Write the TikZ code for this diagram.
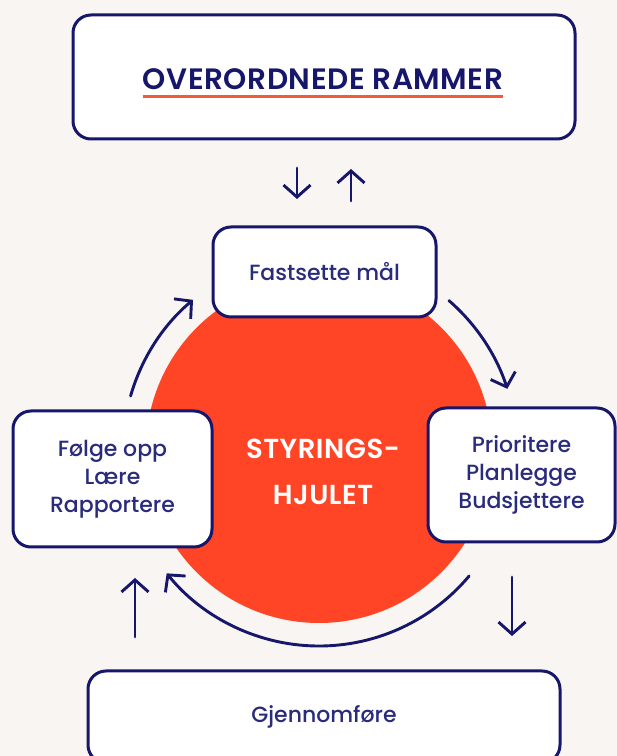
\documentclass[tikz,border=0pt]{standalone}
\usepackage{fontspec}
\setmainfont{Poppins}
\newfontfamily\bodyfont{Poppins Medium}
\newfontfamily\headfont{Poppins SemiBold}[LetterSpace=2]
\usetikzlibrary{arrows.meta}
\definecolor{bg}{HTML}{F8F5F2}
\definecolor{navy}{HTML}{16166B}
\definecolor{txt}{HTML}{2B2B7C}
\definecolor{wheelred}{HTML}{FF4526}
\definecolor{uline}{HTML}{F25A3F}
\tikzset{
  box/.style={draw=navy, line width=3pt, fill=white, rounded corners=18pt, inner sep=0pt,
    text=txt, align=center, font=\bodyfont\fontsize{22}{28}\selectfont},
  arr/.style={draw=navy, line width=2.9pt, line cap=round, line join=round,
    -{Straight Barb[length=12pt,width=26pt]}},
  vert/.style={draw=navy, line width=2.9pt, line cap=round, line join=round,
    -{Straight Barb[length=12pt,width=27pt]}}
}
\begin{document}
\begin{tikzpicture}[x=1pt,y=1pt]
\useasboundingbox (0,0) rectangle (617,756);
\fill[bg] (0,0) rectangle (617,756);
\clip (0,0) rectangle (617,756);
\coordinate (C) at (319,306);
\fill[wheelred] (C) circle[radius=173];
% top frame
\node[box, minimum width=502pt, minimum height=124pt] (top) at (324,679) {};
\node[text=navy, inner sep=0pt, anchor=base, font=\headfont\fontsize{29.5}{32}\selectfont] (head) at (323,666) {OVERORDNEDE RAMMER};
\draw[uline, line width=3pt] ([yshift=-7pt]head.base west) -- ([yshift=-7pt]head.base east);
% small arrows between frame and wheel
\coordinate (d1) at (297,588);
\coordinate (d2) at (297,557);
\coordinate (u1) at (351,555);
\coordinate (u2) at (351,587);
\draw[vert] (d1) -- (d2);
\draw[vert] (u1) -- (u2);
% wheel boxes
\node[box, minimum width=223pt, minimum height=90pt] (goal) at (324.5,484) {Fastsette mål};
\node[box, minimum width=199pt, minimum height=136pt] (follow) at (112.5,277) {Følge opp\\Lære\\Rapportere};
\node[box, minimum width=187pt, minimum height=134pt] (plan) at (521.5,281) {Prioritere\\Planlegge\\Budsjettere};
\node[box, minimum width=472pt, minimum height=92pt] (exec) at (324,39) {Gjennomføre};
\node[text=white, inner sep=0pt, align=center, font=\headfont\fontsize{27.5}{46}\selectfont] (wheel) at (323,284) {STYRINGS-\\HJULET};
% cycle arrows
\draw[arr] ([shift={(C)}]164:196) arc[start angle=164, end angle=130, radius=196];
\draw[arr] ([shift={(C)}]49:198) arc[start angle=49, end angle=18, radius=198];
\draw[arr] ([shift={(C)}]-40:196) arc[start angle=-40, end angle=-141, radius=196];
% vertical arrows
\coordinate (l1) at (135,119);
\coordinate (l2) at (135,178);
\coordinate (r1) at (512,179);
\coordinate (r2) at (512,120);
\draw[vert] (l1) -- (l2);
\draw[vert] (r1) -- (r2);
\end{tikzpicture}
\end{document}
